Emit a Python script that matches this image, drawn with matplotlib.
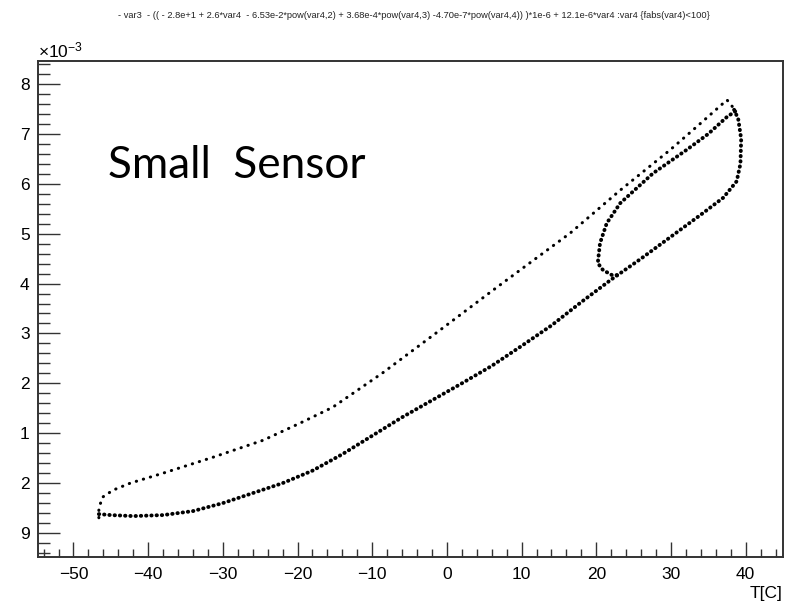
import matplotlib
matplotlib.use("Agg")
import matplotlib.pyplot as plt
from matplotlib.ticker import MultipleLocator, FixedLocator, FixedFormatter

plt.rcParams['font.family'] = ['Liberation Sans', 'DejaVu Sans']
plt.rcParams['mathtext.fontset'] = 'custom'
plt.rcParams['mathtext.rm'] = 'Liberation Sans'
plt.rcParams['mathtext.it'] = 'Liberation Sans'

# ---- data (T in C, value in units of 1e-3, axis-tick units) ----
heat_T = [-46.6, -45, -42, -38, -34, -30, -26, -22, -18, -14, -10, -6, -2, 2, 6, 10,
          14, 18, 22, 26, 30, 34, 37, 38.8, 39.3, 39.4, 39.0, 38.4]
heat_V = [9.38, 9.36, 9.34, 9.36, 9.44, 9.60, 9.80, 10.00, 10.25, 10.58, 10.95, 11.32,
          11.66, 12.00, 12.35, 12.75, 13.16, 13.63, 14.08, 14.50, 14.94, 15.38, 15.72,
          16.05, 16.40, 16.90, 17.30, 17.50]

inner_T = [38.6, 37.5, 35.0, 32.1, 27.6, 23.2, 21.4, 20.5, 20.2, 20.9, 22.1, 23.2]
inner_V = [17.45, 17.34, 17.00, 16.68, 16.21, 15.61, 15.21, 14.81, 14.41, 14.27, 14.17, 14.17]

outer_T = [38.2, 37.5, 33.5, 29.9, 23.2, 16.5, 9.8, 6.2, -0.9, -8.6, -15.3, -19.7,
           -24.6, -31.3, -38.0, -42.4, -44.7, -46.1, -46.6, -46.6]
outer_V = [17.55, 17.68, 17.15, 16.68, 15.87, 15.01, 14.27, 13.87, 13.07, 12.21, 11.52,
           11.20, 10.86, 10.52, 10.20, 10.00, 9.86, 9.72, 9.50, 9.30]

x_major = [-50, -40, -30, -20, -10, 0, 10, 20, 30, 40]
y_major = [9, 10, 11, 12, 13, 14, 15, 16, 17, 18]
y_labels = ['9', '2', '1', '2', '3', '4', '5', '6', '7', '8']

title = ("- var3  - (( - 2.8e+1 + 2.6*var4  - 6.53e-2*pow(var4,2) + 3.68e-4*pow(var4,3) "
         "-4.70e-7*pow(var4,4)) )*1e-6 + 12.1e-6*var4 :var4 {fabs(var4)<100}")

W, H = 802, 604
fig = plt.figure(figsize=(W / 100, H / 100), dpi=100)
ax = fig.add_axes([38 / W, 1 - 557 / H, (783 - 38) / W, (557 - 61) / H])

dot_dense = (0, (0.1, 1.25))
dot_sparse = (0, (0.1, 2.3))
ax.plot(heat_T, heat_V, color='black', lw=2.8, linestyle=dot_dense,
        dash_capstyle='round')
ax.plot(inner_T, inner_V, color='black', lw=2.8, linestyle=dot_dense,
        dash_capstyle='round')
ax.plot(outer_T, outer_V, color='black', lw=2.2, linestyle=dot_sparse,
        dash_capstyle='round')

ax.set_xlim(-54.75, 45.0)
ax.set_ylim(8.52, 18.46)

ax.xaxis.set_major_locator(FixedLocator(x_major))
ax.xaxis.set_minor_locator(MultipleLocator(2))
ax.yaxis.set_major_locator(FixedLocator(y_major))
ax.yaxis.set_major_formatter(FixedFormatter(y_labels))
ax.yaxis.set_minor_locator(MultipleLocator(0.2))
ax.set_xticklabels([str(v).replace('-', '\u2212') for v in x_major])

ax.tick_params(axis='x', which='major', direction='in', length=11, width=1.0,
               color='#333333', labelsize=12.5, pad=7, top=False)
ax.tick_params(axis='x', which='minor', direction='in', length=5.5, width=1.0,
               color='#333333', top=False)
ax.tick_params(axis='y', which='major', direction='in', length=15.5, width=1.0,
               color='#333333', labelsize=12.5, pad=6, right=False)
ax.tick_params(axis='y', which='minor', direction='in', length=8.5, width=1.0,
               color='#333333', right=False)
for s in ax.spines.values():
    s.set_linewidth(1.4)
    s.set_color('#333333')

fig.text(38 / W, 1 - 57 / H, '\u00d710$^{-3}$', fontsize=12.5, ha='left', va='baseline')
fig.text(782 / W, 1 - 586 / H, 'T[C]', fontsize=12.5, ha='right', va='top')
fig.text(414 / W, 1 - 16 / H, title, fontsize=6.7, ha='center', va='center', color='#222222')
fig.text(108 / W, 1 - 178 / H, 'Small  Sensor', fontsize=31.8, family='Lato',
         ha='left', va='baseline')

fig.savefig('out.png', dpi=100)
